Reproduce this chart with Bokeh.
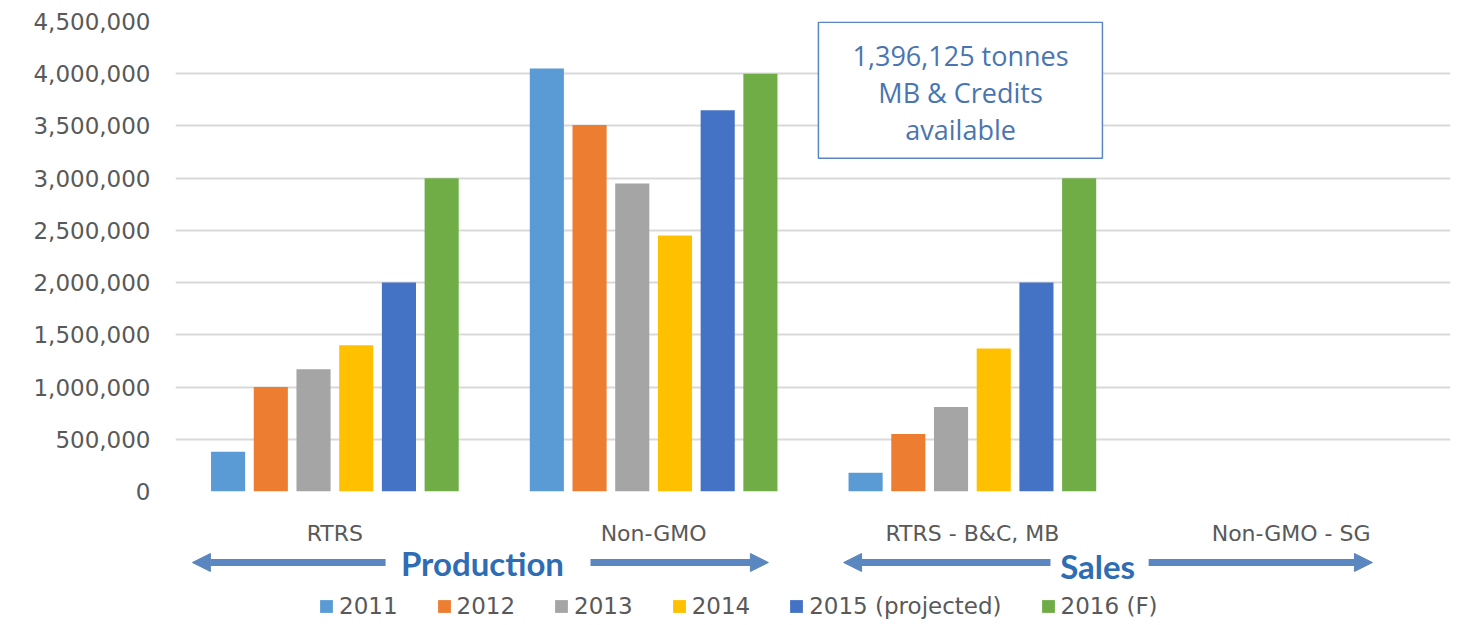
from bokeh.plotting import figure
from bokeh.layouts import column
from bokeh.models import (ColumnDataSource, FactorRange, Range1d, NumeralTickFormatter,
                          FixedTicker, Legend, LegendItem, Arrow, NormalHead)
from bokeh.transform import dodge
from bokeh.core.properties import value
from bokeh.embed import file_html
from bokeh.resources import INLINE

# ---------------- data ----------------
categories = ["RTRS", "Non-GMO", "RTRS - B&C, MB", "Non-GMO - SG"]
years = ["2011", "2012", "2013", "2014", "2015 (projected)", "2016 (F)"]
v2011 = [380000, 4050000, 180000, 0]
v2012 = [1000000, 3510000, 550000, 0]
v2013 = [1170000, 2950000, 810000, 0]
v2014 = [1400000, 2450000, 1370000, 0]
v2015 = [2000000, 3650000, 2000000, 0]
v2016 = [3000000, 4000000, 3000000, 0]
colors = ["#5B9BD5", "#ED7D31", "#A5A5A5", "#FFC000", "#4472C4", "#70AD47"]
y_ticks = [0, 500000, 1000000, 1500000, 2000000, 2500000, 3000000, 3500000, 4000000, 4500000]
groups = ["Production", "Sales"]
note_text = "1,396,125 tonnes\nMB & Credits\navailable"

series = [v2011, v2012, v2013, v2014, v2015, v2016]
src = ColumnDataSource(dict(cat=categories, **{y: s for y, s in zip(years, series)}))

FONT = "DejaVu Sans"
GRAY = "#595959"
W = 1461

x_range = FactorRange(*categories, range_padding=0)

p = figure(x_range=x_range, y_range=Range1d(0, 4500000), width=W, height=507,
           output_backend="svg", toolbar_location=None,
           min_border_left=175, min_border_right=11, min_border_top=21, min_border_bottom=16)
p.outline_line_color = None
p.xaxis.visible = False

step = 0.134
bw = 0.107
for i, (yr, c) in enumerate(zip(years, colors)):
    off = (i - 2.5) * step
    p.vbar(x=dodge("cat", off, range=p.x_range), top=yr, width=bw, source=src,
           fill_color=c, line_color=None)

p.yaxis.ticker = FixedTicker(ticks=y_ticks)
p.yaxis.formatter = NumeralTickFormatter(format="0,0")
p.yaxis.axis_line_color = None
p.yaxis.major_tick_line_color = None
p.yaxis.minor_tick_line_color = None
p.yaxis.major_label_text_font = FONT
p.yaxis.major_label_text_font_size = "23px"
p.yaxis.major_label_text_color = GRAY
p.yaxis.major_label_standoff = 19

p.xgrid.grid_line_color = None
p.ygrid.grid_line_color = "#D9D9D9"
p.ygrid.grid_line_width = 2

# annotation box
p.quad(left=[2.017], right=[2.908], top=[4492000], bottom=[3190000],
       fill_color="white", line_color="#5B87C0", line_width=1.5)
p.text(x=[2.463], y=[3822000], text=[note_text], text_align="center", text_baseline="middle",
       text_font=value("Open Sans"), text_font_size="27px", text_color="#4A75B0",
       text_line_height=1.0)

# ---------------- bottom strip: category labels, arrows, group titles, legend ----------------
BH = 118
b = figure(x_range=x_range, y_range=Range1d(0, BH), width=W, height=BH,
           output_backend="svg", toolbar_location=None,
           min_border_left=175, min_border_right=11, min_border_top=0, min_border_bottom=0)
b.outline_line_color = None
b.axis.visible = False
b.grid.visible = False

b.text(x=categories, y=[92] * len(categories), text=categories, text_align="center",
       text_baseline="middle", text_font=value(FONT), text_font_size="22px", text_color=GRAY)

ARROW = "#5B87C0"
arrow_spans = [(0.659, 0.053), (1.302, 1.860), (2.745, 2.096), (3.053, 3.755)]
ay = 63
for xs, xe in arrow_spans:
    b.add_layout(Arrow(x_start=xs, y_start=ay, x_end=xe, y_end=ay, line_color=ARROW,
                       line_width=7,
                       end=NormalHead(size=18, fill_color=ARROW, line_color=ARROW)))

b.text(x=[0.963, 2.893], y=[ay, ay - 3], text=groups, text_align="center",
       text_baseline="middle", text_font=value("Lato"), text_font_style="bold",
       text_font_size="33px", text_color="#2E6DB4")

# legend swatches: one bar per year placed below the visible strip (never seen itself)
items = []
for yr, c in zip(years, colors):
    d = b.vbar(x=[categories[0]], bottom=[-60], top=[-50], width=0.1,
               fill_color=c, line_color=None)
    items.append(LegendItem(label=yr, renderers=[d]))

legend = Legend(items=items, orientation="horizontal", location=(143, 6),
                label_text_font=FONT, label_text_font_size="23px", label_text_color=GRAY,
                glyph_width=16, glyph_height=16, label_standoff=5, spacing=38,
                padding=0, margin=0, border_line_color=None, background_fill_alpha=0)
b.add_layout(legend, "center")

layout = column(p, b, spacing=0)
open("out.html", "w").write(file_html(layout, INLINE))
